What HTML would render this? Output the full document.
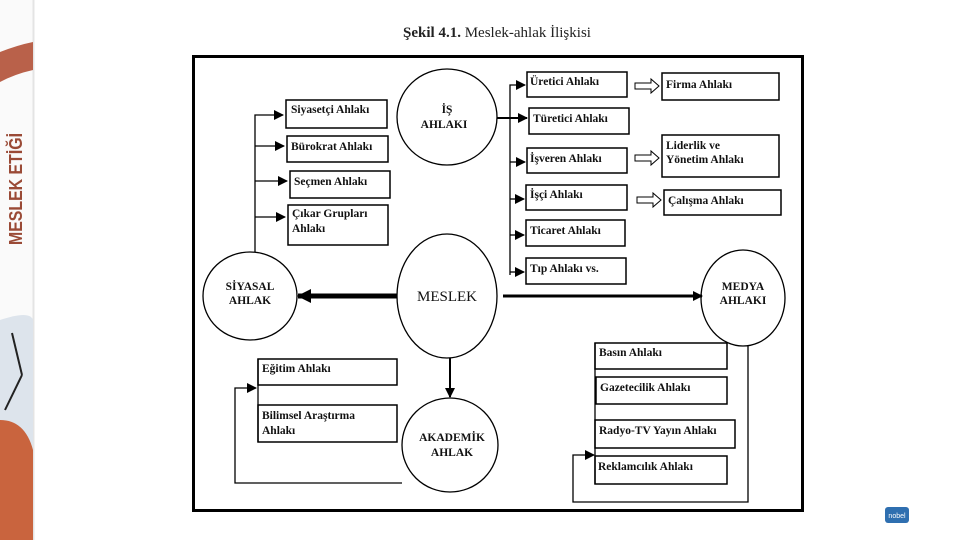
<!DOCTYPE html>
<html><head><meta charset="utf-8"><style>
html,body{margin:0;padding:0;background:#fff;}
body{width:960px;height:540px;position:relative;overflow:hidden;font-family:"Liberation Serif",serif;}
</style></head><body>
<svg width="960" height="540" viewBox="0 0 960 540" xmlns="http://www.w3.org/2000/svg" font-family="Liberation Serif, serif">
<defs>
<marker id="a" markerWidth="10" markerHeight="10" refX="9" refY="5" orient="auto" markerUnits="userSpaceOnUse"><path d="M0,0 L10,5 L0,10 Z" fill="#000"/></marker>
<marker id="b" markerWidth="14" markerHeight="14" refX="13" refY="7" orient="auto" markerUnits="userSpaceOnUse"><path d="M0,0 L14,7 L0,14 Z" fill="#000"/></marker>
</defs>
<!-- sidebar -->
<rect x="0" y="0" width="33" height="540" fill="#fafafa"/>
<line x1="33.5" y1="0" x2="33.5" y2="540" stroke="#e4e4e4" stroke-width="2"/>
<path d="M0,52 Q18,45 33,42 L33,70 Q15,74 0,82 Z" fill="#b9614a"/>
<text transform="translate(22,245) rotate(-90)" font-family="Liberation Sans, sans-serif" font-weight="bold" font-size="18" fill="#9a4a36" textLength="112" lengthAdjust="spacingAndGlyphs">MESLEK ETİĞİ</text>
<path d="M0,320 Q30,310 33,320 L33,540 L0,540 Z" fill="#dde4ec"/>
<path d="M0,420 Q25,420 33,450 L33,540 L0,540 Z" fill="#c9643e"/>
<line x1="12" y1="333" x2="22" y2="375" stroke="#222" stroke-width="2"/>
<line x1="22" y1="375" x2="5" y2="410" stroke="#222" stroke-width="2"/>
<!-- title -->
<text x="497" y="37" text-anchor="middle" font-size="15" fill="#222"><tspan font-weight="bold">Şekil 4.1.</tspan> Meslek-ahlak İlişkisi</text>
<!-- frame -->
<rect x="193.5" y="56.5" width="609" height="454" fill="#fff" stroke="#000" stroke-width="3"/>
<g fill="none" stroke="#000" stroke-width="1.3">
<ellipse cx="447" cy="117" rx="50" ry="48"/>
<ellipse cx="447" cy="296" rx="50" ry="62"/>
<ellipse cx="250" cy="296" rx="47" ry="44"/>
<ellipse cx="743" cy="298" rx="42" ry="48"/>
<ellipse cx="450" cy="445" rx="48" ry="47"/>
</g>
<g fill="#fff" stroke="#000" stroke-width="1.5">
<rect x="286" y="100" width="101" height="28"/>
<rect x="287" y="136" width="101" height="26"/>
<rect x="290" y="171" width="100" height="27"/>
<rect x="288" y="205" width="100" height="40"/>
<rect x="527" y="72" width="100" height="25"/>
<rect x="529" y="108" width="100" height="26"/>
<rect x="527" y="148" width="100" height="25"/>
<rect x="526" y="185" width="101" height="25"/>
<rect x="526" y="220" width="99" height="26"/>
<rect x="526" y="258" width="100" height="26"/>
<rect x="662" y="73" width="117" height="27"/>
<rect x="662" y="135" width="117" height="42"/>
<rect x="664" y="190" width="117" height="25"/>
<rect x="258" y="359" width="139" height="26"/>
<rect x="258" y="405" width="139" height="37"/>
<rect x="595" y="343" width="132" height="26"/>
<rect x="596" y="377" width="131" height="27"/>
<rect x="595" y="420" width="140" height="28"/>
<rect x="595" y="456" width="132" height="28"/>
</g>
<g stroke="#000" stroke-width="1.3" fill="none">
<polyline points="255,252 255,115 283,115" marker-end="url(#a)"/>
<line x1="255" y1="146" x2="284" y2="146" marker-end="url(#a)"/>
<line x1="255" y1="181" x2="287" y2="181" marker-end="url(#a)"/>
<line x1="255" y1="217" x2="285" y2="217" marker-end="url(#a)"/>
<polyline points="510,275 510,85 525,85" marker-end="url(#a)"/>
<line x1="497" y1="118" x2="527" y2="118" marker-end="url(#a)" stroke-width="2"/>
<line x1="510" y1="162" x2="525" y2="162" marker-end="url(#a)"/>
<line x1="510" y1="199" x2="524" y2="199" marker-end="url(#a)"/>
<line x1="510" y1="235" x2="524" y2="235" marker-end="url(#a)"/>
<line x1="510" y1="272" x2="524" y2="272" marker-end="url(#a)"/>
<line x1="450" y1="358" x2="450" y2="397" marker-end="url(#a)" stroke-width="2"/>
<polyline points="402,483 235,483 235,388 256,388" marker-end="url(#a)"/>
<polyline points="748,345 748,502 573,502 573,455 594,455" marker-end="url(#a)"/>
<line x1="595" y1="343" x2="595" y2="484"/>
<line x1="258" y1="359" x2="258" y2="442"/>
</g>
<line x1="397" y1="296" x2="298" y2="296" stroke="#000" stroke-width="5" marker-end="url(#b)"/>
<line x1="503" y1="296" x2="702" y2="296" stroke="#000" stroke-width="3" marker-end="url(#a)"/>
<g fill="#fff" stroke="#000" stroke-width="1">
<path d="M635,83 L651,83 L651,79 L659,86 L651,93 L651,89 L635,89 Z"/>
<path d="M635,155 L651,155 L651,151 L659,158 L651,165 L651,161 L635,161 Z"/>
<path d="M637,197 L653,197 L653,193 L661,200 L653,207 L653,203 L637,203 Z"/>
</g>
<g font-size="11.5" font-weight="bold" fill="#111">
<text x="291" y="113">Siyasetçi Ahlakı</text>
<text x="291" y="150">Bürokrat Ahlakı</text>
<text x="294" y="185">Seçmen Ahlakı</text>
<text x="292" y="217">Çıkar Grupları</text>
<text x="292" y="232">Ahlakı</text>
<text x="530" y="85">Üretici Ahlakı</text>
<text x="533" y="122">Türetici Ahlakı</text>
<text x="530" y="162">İşveren Ahlakı</text>
<text x="530" y="198">İşçi Ahlakı</text>
<text x="530" y="234">Ticaret Ahlakı</text>
<text x="530" y="272">Tıp Ahlakı vs.</text>
<text x="666" y="88">Firma Ahlakı</text>
<text x="666" y="149">Liderlik ve</text>
<text x="666" y="163">Yönetim Ahlakı</text>
<text x="668" y="204">Çalışma Ahlakı</text>
<text x="262" y="372">Eğitim Ahlakı</text>
<text x="262" y="419">Bilimsel Araştırma</text>
<text x="262" y="434">Ahlakı</text>
<text x="599" y="356">Basın Ahlakı</text>
<text x="600" y="391">Gazetecilik Ahlakı</text>
<text x="599" y="434">Radyo-TV Yayın Ahlakı</text>
<text x="598" y="470">Reklamcılık Ahlakı</text>
<g text-anchor="middle">
<text x="447" y="113">İŞ</text>
<text x="444" y="128">AHLAKI</text>
<text x="250" y="290">SİYASAL</text>
<text x="250" y="304">AHLAK</text>
<text x="743" y="290">MEDYA</text>
<text x="743" y="304">AHLAKI</text>
<text x="452" y="441">AKADEMİK</text>
<text x="452" y="456">AHLAK</text>
</g>
</g>
<text x="447" y="301" text-anchor="middle" font-size="15" fill="#111">MESLEK</text>
<rect x="885" y="507" width="24" height="16" rx="3" fill="#2f6fb0"/>
<text x="897" y="518" text-anchor="middle" font-family="Liberation Sans, sans-serif" font-size="7" fill="#fff">nobel</text>
</svg>
</body></html>
